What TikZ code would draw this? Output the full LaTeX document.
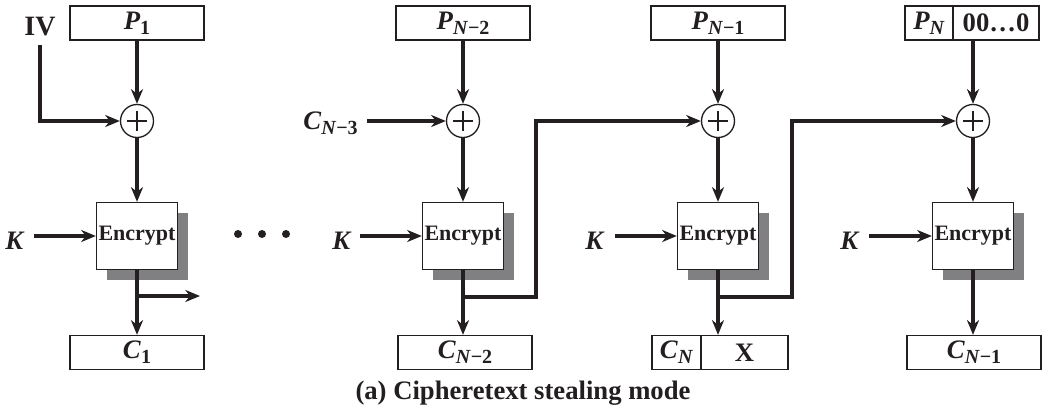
\documentclass[tikz,border=0pt]{standalone}
\usepackage{fontspec}
\setmainfont{Liberation Serif}
\usetikzlibrary{arrows.meta,calc}
\definecolor{ink}{HTML}{231F20}
\definecolor{shade}{HTML}{808083}
\newcommand{\vlab}[2]{\textbf{\textit{#1}}\raisebox{-4pt}{\fontsize{15}{15}\selectfont\bfseries #2}}
\tikzset{
  blk/.style={draw=ink, line width=1pt, fill=white, minimum width=100.5pt, minimum height=25.5pt, inner sep=0pt, font=\fontsize{20}{20}\selectfont, text=ink},
  half/.style={draw=ink, line width=1pt, fill=white, minimum height=25.5pt, inner sep=0pt, font=\fontsize{20}{20}\selectfont, text=ink},
  encbox/.style={draw=ink, line width=1pt, fill=white, minimum width=60.75pt, minimum height=50.25pt, inner sep=0pt, font=\fontsize{16.5}{17}\selectfont\bfseries, text=ink},
  shadowbox/.style={fill=shade, minimum width=60.75pt, minimum height=50.25pt, inner sep=0pt},
  xorc/.style={circle, draw=ink, line width=1pt, fill=white, minimum size=24.75pt, inner sep=0pt},
  plusl/.style={draw=ink, line width=2pt},
  conn/.style={draw=ink, line width=2.4pt},
  arr/.style={conn, -{Stealth[length=11pt,width=9pt,inset=3.5pt]}},
  lbl/.style={font=\fontsize{20}{20}\selectfont, text=ink, inner sep=0pt},
  dotc/.style={circle, fill=ink, minimum size=6pt, inner sep=0pt}
}
\begin{document}
\begin{tikzpicture}[x=0.75pt,y=-0.75pt]
\useasboundingbox (0,0) rectangle (1050,414);

% ---------- column 1 ----------
\node[blk] (p1) at (137,23) {\vlab{P}{1}};
\node[xorc] (x1) at (137,121) {};
\node[shadowbox] (s1) at (147,246) {};
\node[encbox] (e1) at (137,236) {Encrypt};
\node[blk] (c1) at (137,352.5) {\vlab{C}{1}};
\node[lbl,font=\fontsize{21}{21}\selectfont\bfseries] (iv) at (40,27) {IV};
\node[lbl] (k1) at (15,241) {\textbf{\textit{K}}};
\coordinate (ivb) at (40,45);
\coordinate (k1s) at (34,236);
\coordinate (j1) at (137,296);
\coordinate (j1e) at (200,296);

% ---------- column 2 ----------
\node[blk] (p2) at (463,23) {\vlab{P}{\textit{N}−2}};
\node[xorc] (x2) at (463,121) {};
\node[shadowbox] (s2) at (473,246) {};
\node[encbox] (e2) at (463,236) {Encrypt};
\node[blk] (c2) at (465,352.5) {\vlab{C}{\textit{N}−2}};
\node[lbl,anchor=east] (cn3) at (358,123) {\vlab{C}{\textit{N}−3}};
\node[lbl] (k2) at (342,241) {\textbf{\textit{K}}};
\coordinate (cn3s) at (367,121);
\coordinate (k2s) at (360,236);
\coordinate (j2) at (463,297);
\coordinate (t2) at (536,297);

% ---------- column 3 ----------
\node[blk] (p3) at (718,23) {\vlab{P}{\textit{N}−1}};
\node[xorc] (x3) at (718,121) {};
\node[shadowbox] (s3) at (728,246) {};
\node[encbox] (e3) at (718,236) {Encrypt};
\node[half, minimum width=36.75pt] (cn) at (676.5,352.5) {\vlab{C}{\textit{N}}};
\node[half, minimum width=65.25pt] (xx) at (744.5,352.5) {\textbf{X}};
\node[lbl] (k3) at (595,241) {\textbf{\textit{K}}};
\coordinate (k3s) at (615,236);
\coordinate (j3) at (718,297);
\coordinate (t3) at (792,297);

% ---------- column 4 ----------
\node[half, minimum width=36pt] (pn) at (929,23) {\vlab{P}{\textit{N}}};
\node[half, minimum width=64.5pt] (zz) at (996,23) {\textbf{00…0}};
\node[xorc] (x4) at (973,121) {};
\node[shadowbox] (s4) at (983,246) {};
\node[encbox] (e4) at (973,236) {Encrypt};
\node[blk] (c4) at (974,352.5) {\vlab{C}{\textit{N}−1}};
\node[lbl] (k4) at (850,241) {\textbf{\textit{K}}};
\coordinate (k4s) at (869,236);

% ---------- plus signs ----------
\foreach \n in {x1,x2,x3,x4}{
  \draw[plusl] (\n.center) ++(-10,0) -- ++(20,0);
  \draw[plusl] (\n.center) ++(0,-10) -- ++(0,20);
}

% ---------- dots ----------
\node[dotc] (d1) at (238,234) {};
\node[dotc] (d2) at (262,234) {};
\node[dotc] (d3) at (286,234) {};

% ---------- connectors ----------
\draw[arr] (p1) -- (x1);
\draw[arr] (ivb) |- (x1.west);
\draw[arr] (x1) -- (e1);
\draw[arr] (k1s) -- (k1s -| e1.west);
\draw[arr] (e1) -- (c1);
\draw[arr] (j1) -- (j1e);

\draw[arr] (p2) -- (x2);
\draw[arr] (cn3s) -- (x2.west);
\draw[arr] (x2) -- (e2);
\draw[arr] (k2s) -- (k2s -| e2.west);
\draw[arr] (e2.south) -- (e2.south |- c2.north);
\draw[arr] (j2) -- (t2) |- (x3.west);

\draw[arr] (p3) -- (x3);
\draw[arr] (x3) -- (e3);
\draw[arr] (k3s) -- (k3s -| e3.west);
\draw[arr] (e3.south) -- (e3.south |- xx.north);
\draw[arr] (j3) -- (t3) |- (x4.west);

\draw[arr] (x4 |- zz.south) -- (x4);
\draw[arr] (x4) -- (e4);
\draw[arr] (k4s) -- (k4s -| e4.west);
\draw[arr] (e4.south) -- (e4.south |- c4.north);

% ---------- caption ----------
\node[lbl, font=\fontsize{20}{20}\selectfont\bfseries] (cap) at (523,393) {(a) Cipheretext stealing mode};
\end{tikzpicture}
\end{document}
